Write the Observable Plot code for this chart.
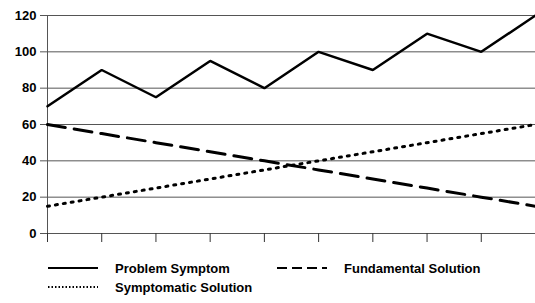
<!DOCTYPE html>
<html>
<head>
<meta charset="utf-8">
<script src="https://cdn.jsdelivr.net/npm/d3@7"></script>
<script src="https://cdn.jsdelivr.net/npm/@observablehq/plot@0.6"></script>
<style>
  html, body { margin: 0; padding: 0; background: #fff; }
  body { width: 535px; height: 303px; overflow: hidden; font-family: "Liberation Sans", Arial, sans-serif; }
  #legend { position: relative; width: 535px; height: 53px; }
</style>
</head>
<body>
<div id="chart"></div>
<div id="legend"></div>
<script>
const periods = [1, 2, 3, 4, 5, 6, 7, 8, 9, 10];
const problemSymptom = [70, 90, 75, 95, 80, 100, 90, 110, 100, 120];
const fundamentalSolution = [60, 55, 50, 45, 40, 35, 30, 25, 20, 15];
const symptomaticSolution = [15, 20, 25, 30, 35, 40, 45, 50, 55, 60];
const yTicks = [0, 20, 40, 60, 80, 100, 120];
const seriesNames = ["Problem Symptom", "Fundamental Solution", "Symptomatic Solution"];

const toRows = (vals) => periods.map((p, i) => ({x: p, y: vals[i]}));

const chart = Plot.plot({
  width: 535,
  height: 250,
  marginLeft: 47,
  marginRight: 0,
  marginTop: 15,
  marginBottom: 17,
  style: {fontFamily: "'Liberation Sans', Arial, sans-serif", fontSize: "13px", fontWeight: "bold", color: "#000", background: "#fff"},
  x: {domain: [1, 10], label: null},
  y: {domain: [0, 120], label: null},
  marks: [
    Plot.ruleY(yTicks, {stroke: "#555", strokeWidth: 1}),
    Plot.ruleX([1], {stroke: "#555", strokeWidth: 1}),
    Plot.axisY({ticks: yTicks, label: null, tickSize: 7, tickPadding: 4, stroke: "#555", fill: "#000", fontWeight: "bold", fontSize: 13}),
    Plot.axisX({ticks: periods, label: null, tickSize: 9, tickFormat: () => "", stroke: "#333"}),
    Plot.line(toRows(fundamentalSolution), {x: "x", y: "y", stroke: "#000", strokeWidth: 3, strokeDasharray: "18,9"}),
    Plot.line(toRows(symptomaticSolution), {x: "x", y: "y", stroke: "#000", strokeWidth: 3, strokeDasharray: "2,6"}),
    Plot.line(toRows(problemSymptom), {x: "x", y: "y", stroke: "#000", strokeWidth: 2.5, strokeLinejoin: "miter"})
  ]
});
document.getElementById("chart").appendChild(chart);

// Legend
const legendItems = [
  {name: seriesNames[0], dash: null, width: 2, lx: 48, ly: 18},
  {name: seriesNames[1], dash: "10,5", width: 2, lx: 277, ly: 18},
  {name: seriesNames[2], dash: "1.5,2", width: 2, lx: 48, ly: 37}
];
const svg = d3.select("#legend").append("svg").attr("width", 535).attr("height", 53);
for (const it of legendItems) {
  const l = svg.append("line").attr("x1", it.lx).attr("x2", it.lx + 50).attr("y1", it.ly).attr("y2", it.ly)
    .attr("stroke", "#000").attr("stroke-width", it.width);
  if (it.dash) l.attr("stroke-dasharray", it.dash);
  svg.append("text").attr("x", it.lx + 67).attr("y", it.ly).attr("dy", "0.35em")
    .attr("font-family", "'Liberation Sans', Arial, sans-serif").attr("font-weight", "bold").attr("font-size", 13)
    .text(it.name);
}
</script>
</body>
</html>
